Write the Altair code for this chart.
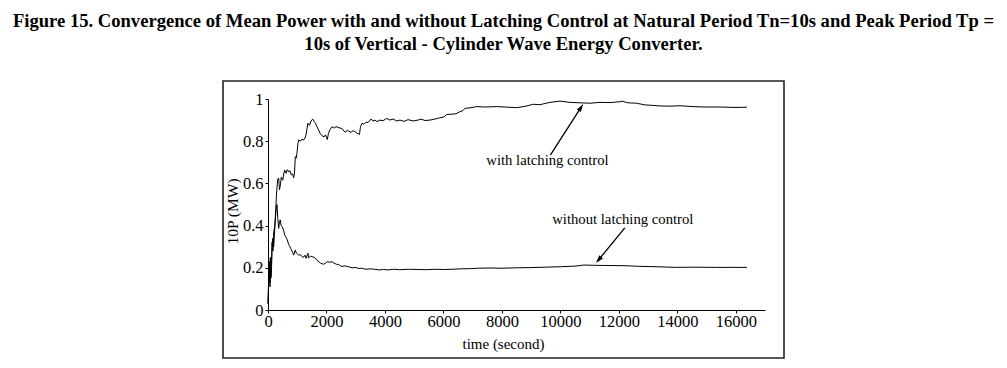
import altair as alt
import pandas as pd

# ---- data ----
with_t = [0, 24, 44, 68, 92, 113, 137, 171, 195, 229, 250, 274, 291, 308, 332, 366, 393, 421, 455,
          503, 530, 571, 616, 660, 708, 752, 797, 838, 879, 906, 934, 968, 992, 1026, 1050, 1112,
          1163, 1214, 1265, 1300, 1334, 1368, 1419, 1471, 1529, 1573, 1625, 1676, 1734, 1778, 1847,
          1915, 1967, 2028, 2069, 2120, 2189, 2257, 2326, 2394, 2462, 2531, 2599, 2651, 2712, 2770,
          2839, 2907, 2975, 3044, 3095, 3129, 3164, 3215, 3283, 3352, 3420, 3488, 3533, 3591, 3659,
          3728, 3830, 3933, 4060, 4172, 4275, 4401, 4514, 4651, 4788, 4969, 5130, 5233, 5369, 5540,
          5711, 5882, 6019, 6112, 6292, 6430, 6566, 6669, 6737, 6908, 7137, 7421, 7821, 8105, 8506,
          8789, 9073, 9302, 9644, 9986, 10328, 10670, 11012, 11354, 11696, 12038, 12107, 12312,
          12610, 12893, 13133, 13406, 13748, 14090, 14535, 14945, 15458, 15971, 16382]
with_p = [0.03, 0.15, 0.23, 0.13, 0.25, 0.18, 0.32, 0.28, 0.37, 0.395, 0.44, 0.50, 0.55, 0.58, 0.62,
          0.625, 0.57, 0.59, 0.63, 0.615, 0.64, 0.663, 0.648, 0.665, 0.655, 0.66, 0.64, 0.645, 0.627,
          0.65, 0.727, 0.72, 0.745, 0.79, 0.806, 0.80, 0.81, 0.805, 0.815, 0.83, 0.86, 0.885, 0.875,
          0.895, 0.905, 0.895, 0.885, 0.868, 0.853, 0.838, 0.826, 0.82, 0.83, 0.808, 0.837, 0.855,
          0.869, 0.862, 0.869, 0.866, 0.862, 0.861, 0.848, 0.842, 0.853, 0.846, 0.842, 0.85, 0.845,
          0.838, 0.835, 0.832, 0.87, 0.885, 0.88, 0.89, 0.888, 0.90, 0.905, 0.895, 0.90, 0.893, 0.90,
          0.897, 0.908, 0.90, 0.905, 0.896, 0.90, 0.894, 0.902, 0.896, 0.90, 0.905, 0.898, 0.90,
          0.905, 0.911, 0.915, 0.927, 0.928, 0.93, 0.94, 0.945, 0.956, 0.958, 0.964, 0.962, 0.964,
          0.962, 0.959, 0.965, 0.975, 0.973, 0.984, 0.99, 0.984, 0.982, 0.98, 0.984, 0.983, 0.987,
          0.99, 0.982, 0.98, 0.972, 0.97, 0.967, 0.966, 0.968, 0.964, 0.962, 0.962, 0.96, 0.961]

without_t = [0, 24, 44, 68, 79, 92, 113, 137, 161, 195, 229, 250, 274, 308, 332, 366, 393, 421, 448,
             486, 530, 571, 616, 660, 708, 752, 774, 838, 879, 934, 968, 1050, 1112, 1163, 1214,
             1265, 1300, 1368, 1390, 1454, 1505, 1573, 1625, 1676, 1734, 1800, 1900, 1967, 2028,
             2100, 2189, 2257, 2339, 2420, 2531, 2600, 2750, 2900, 2980, 3100, 3200, 3350, 3500,
             3650, 3800, 3950, 4100, 4300, 4500, 4800, 5100, 5400, 5700, 6000, 6300, 6600, 6900,
             7200, 7600, 8000, 8500, 9000, 9500, 10000, 10500, 10800, 11100, 11500, 12180, 12700,
             13300, 13970, 14600, 15300, 15900, 16382]
without_p = [0.03, 0.134, 0.2, 0.11, 0.246, 0.15, 0.158, 0.28, 0.34, 0.3, 0.38, 0.42, 0.474, 0.50,
             0.44, 0.387, 0.42, 0.427, 0.40, 0.395, 0.38, 0.355, 0.345, 0.332, 0.31, 0.30, 0.292,
             0.275, 0.26, 0.284, 0.27, 0.26, 0.262, 0.253, 0.25, 0.26, 0.245, 0.269, 0.247, 0.255,
             0.253, 0.25, 0.245, 0.235, 0.229, 0.222, 0.217, 0.222, 0.229, 0.226, 0.229, 0.222,
             0.217, 0.215, 0.205, 0.21, 0.205, 0.20, 0.202, 0.197, 0.198, 0.193, 0.195, 0.193, 0.19,
             0.192, 0.19, 0.193, 0.191, 0.193, 0.192, 0.191, 0.193, 0.192, 0.193, 0.195, 0.196,
             0.198, 0.199, 0.198, 0.200, 0.201, 0.203, 0.205, 0.208, 0.213, 0.212, 0.211, 0.21,
             0.207, 0.205, 0.202, 0.203, 0.202, 0.202, 0.202]

x_ticks = [0, 2000, 4000, 6000, 8000, 10000, 12000, 14000, 16000]
y_ticks = [0, 0.2, 0.4, 0.6, 0.8, 1]

labels = ["with latching control", "without latching control"]
label_t = [9560, 12136]
label_p = [0.706, 0.4265]
arrow_t = [9663, 12205]
arrow_p = [0.735, 0.389]
head_t = [10706, 11306]
head_p = [0.960, 0.2374]
head_angle = [33, 220]

title_lines = ["Figure 15. Convergence of Mean Power with and without Latching Control at Natural Period Tn=10s and Peak Period Tp =",
               "10s of Vertical - Cylinder Wave Energy Converter."]

FONT = "Liberation Serif"

lines_df = pd.concat([
    pd.DataFrame({"t": with_t, "p": with_p, "series": "with"}),
    pd.DataFrame({"t": without_t, "p": without_p, "series": "without"}),
])
ann_df = pd.DataFrame({"label": labels, "lt": label_t, "lp": label_p,
                       "at": arrow_t, "ap": arrow_p, "ht": head_t, "hp": head_p,
                       "ang": head_angle})

xscale = alt.Scale(domain=[0, 17000], nice=False, zero=False)
yscale = alt.Scale(domain=[0, 1], nice=False)

x_enc = alt.X("t:Q", scale=xscale,
              axis=alt.Axis(values=x_ticks, format="d", title="time (second)",
                            titleX=235, titleY=33, titleBaseline="middle",
                            titleFont=FONT, labelFont=FONT,
                            titleFontSize=15, titleFontWeight="normal",
                            labelFontSize=16.5, labelPadding=0, tickSize=3,
                            labelFlush=False))
y_enc = alt.Y("p:Q", scale=yscale,
              axis=alt.Axis(values=y_ticks, format="~g", title="10P (MW)",
                            titleX=-36, titleY=112, titleBaseline="middle",
                            titleFont=FONT, labelFont=FONT,
                            titleFontSize=15.5, titleFontWeight="normal",
                            labelFontSize=16.5, labelPadding=2, tickSize=3,
                            labelFlush=False))

lines = alt.Chart(lines_df).mark_line(color="black", strokeWidth=1, interpolate="linear").encode(
    x=x_enc, y=y_enc, detail="series:N")

box = alt.Chart(pd.DataFrame({"a": [1]})).mark_rect(
    fill="white", fillOpacity=0, stroke="#222222", strokeWidth=1.6).encode(
    x=alt.value(-45), x2=alt.value(516), y=alt.value(-18), y2=alt.value(259))

text = alt.Chart(ann_df).mark_text(font=FONT, fontSize=14.7, color="black",
                                   baseline="middle", align="center").encode(
    x=alt.X("lt:Q", scale=xscale), y=alt.Y("lp:Q", scale=yscale), text="label:N")

arrows = alt.Chart(ann_df).mark_rule(color="black", strokeWidth=1.3).encode(
    x=alt.X("at:Q", scale=xscale), y=alt.Y("ap:Q", scale=yscale),
    x2="ht:Q", y2="hp:Q")

heads = alt.Chart(ann_df).mark_point(shape="M0,-1L-0.6,1L0.6,1Z", filled=True, size=64,
                                     color="black", opacity=1).encode(
    x=alt.X("ht:Q", scale=xscale), y=alt.Y("hp:Q", scale=yscale), angle=alt.Angle("ang:Q", scale=None))

chart = alt.layer(box, lines, arrows, heads, text).properties(
    width=497, height=211,
    autosize=alt.AutoSizeParams(type="none"),
    padding={"left": 260, "top": 91, "right": 234, "bottom": 50},
    title=alt.TitleParams(title_lines, font=FONT, fontSize=18.6, fontWeight="bold",
                          anchor="middle", frame="group", dx=-13, offset=27,
                          lineHeight=23, color="black"),
).configure_view(stroke=None).configure_axis(
    grid=False, domainColor="black", tickColor="black", labelColor="black",
    titleColor="black", labelFont=FONT, titleFont=FONT, domainWidth=1
)

chart.save("out.html", embed_options={"renderer": "svg", "actions": False})
